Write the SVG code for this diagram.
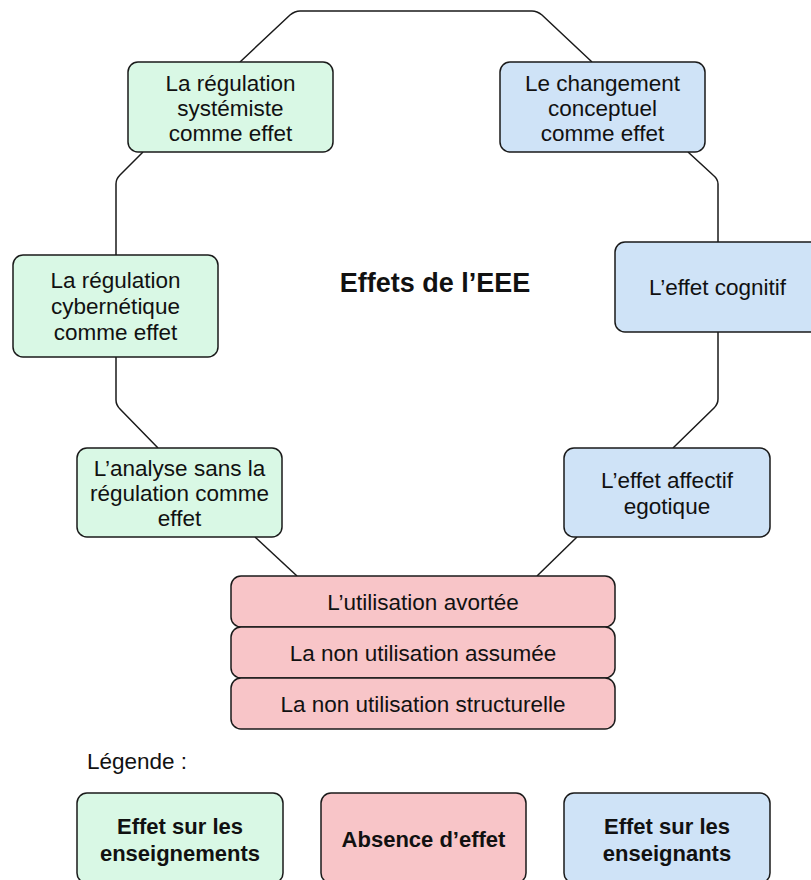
<svg xmlns="http://www.w3.org/2000/svg" width="811" height="880" viewBox="0 0 811 880">
<style>
.box{stroke:#1a1a1a;stroke-width:1.5}
.g{fill:#d9f8e5}
.b{fill:#cfe3f7}
.p{fill:#f8c5c8}
.t{font-family:"Liberation Sans",Arial,sans-serif;font-size:22.5px;fill:#111;text-anchor:middle}
.bold{font-weight:bold;font-size:22px}
.ln{fill:none;stroke:#1a1a1a;stroke-width:1.5}
</style>
<rect width="811" height="880" fill="#fff"/>
<g id="connectors">
<path class="ln" d="M240,62 L290,15 Q295,11 300,11 L532,11 Q537,11 542,15 L592,62"/>
<path class="ln" d="M688,152 L713,175 Q718,179 718,184 L718,242"/>
<path class="ln" d="M718,332 L718,399 Q718,404 714,408 L673,448"/>
<path class="ln" d="M577,537 L537,576"/>
<path class="ln" d="M255,537 L297,576"/>
<path class="ln" d="M158,448 L120,409 Q116,405 116,400 L116,357"/>
<path class="ln" d="M116,255 L116,184 Q116,179 120,175 L143,152"/>
</g>
<g id="n1"><rect class="box g" x="128" y="62" width="205" height="90" rx="10"/>
<text class="t" x="230.5" y="91">La régulation</text><text class="t" x="230.5" y="116">systémiste</text><text class="t" x="230.5" y="141">comme effet</text></g>
<g id="n2"><rect class="box b" x="500" y="62" width="205" height="90" rx="10"/>
<text class="t" x="602.5" y="91">Le changement</text><text class="t" x="602.5" y="116">conceptuel</text><text class="t" x="602.5" y="141">comme effet</text></g>
<g id="n3"><rect class="box g" x="13" y="255" width="205" height="102" rx="10"/>
<text class="t" x="115.5" y="288">La régulation</text><text class="t" x="115.5" y="314">cybernétique</text><text class="t" x="115.5" y="340">comme effet</text></g>
<g id="n4"><rect class="box b" x="615" y="242" width="205" height="90" rx="10"/>
<text class="t" x="717.5" y="295">L’effet cognitif</text></g>
<g id="n5"><rect class="box g" x="77" y="448" width="205" height="89" rx="10"/>
<text class="t" x="179.5" y="476">L’analyse sans la</text><text class="t" x="179.5" y="501">régulation comme</text><text class="t" x="179.5" y="526">effet</text></g>
<g id="n6"><rect class="box b" x="564" y="448" width="206" height="89" rx="10"/>
<text class="t" x="667" y="488">L’effet affectif</text><text class="t" x="667" y="514">egotique</text></g>
<g id="n7"><rect class="box p" x="231" y="576" width="384" height="51" rx="10"/>
<text class="t" x="423" y="610">L’utilisation avortée</text></g>
<g id="n8"><rect class="box p" x="231" y="627" width="384" height="51" rx="10"/>
<text class="t" x="423" y="661">La non utilisation assumée</text></g>
<g id="n9"><rect class="box p" x="231" y="678" width="384" height="51" rx="10"/>
<text class="t" x="423" y="712">La non utilisation structurelle</text></g>
<g id="title"><text class="t bold" x="435" y="292" style="font-size:27px">Effets de l’EEE</text></g>
<g id="legend">
<text class="t" x="87" y="769" style="text-anchor:start">Légende :</text>
<g id="leg1"><rect class="box g" x="77" y="793" width="206" height="90" rx="10"/>
<text class="t bold" x="180" y="834">Effet sur les</text><text class="t bold" x="180" y="861">enseignements</text></g>
<g id="leg2"><rect class="box p" x="321" y="793" width="205" height="90" rx="10"/>
<text class="t bold" x="423.5" y="847">Absence d’effet</text></g>
<g id="leg3"><rect class="box b" x="564" y="793" width="206" height="90" rx="10"/>
<text class="t bold" x="667" y="834">Effet sur les</text><text class="t bold" x="667" y="861">enseignants</text></g>
</g>
</svg>
